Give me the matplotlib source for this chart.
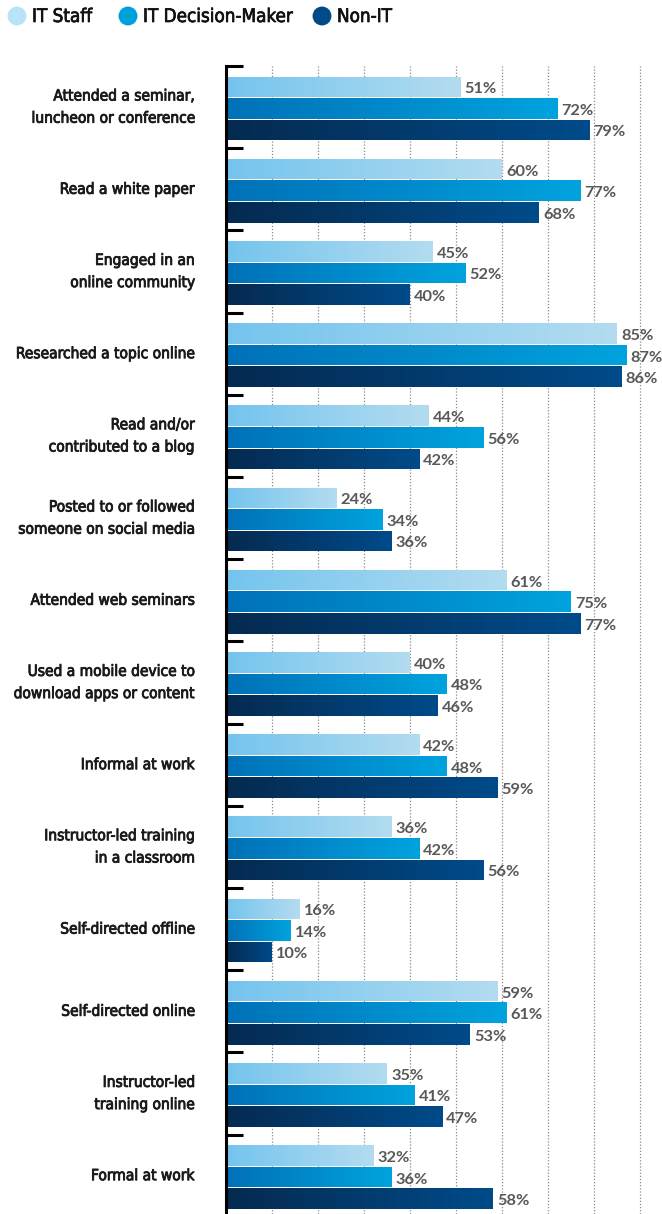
import matplotlib
matplotlib.use("Agg")
import matplotlib.pyplot as plt
import matplotlib.patheffects as pe
from matplotlib.patches import Ellipse
import numpy as np
from matplotlib.colors import LinearSegmentedColormap

# categorias e valores (%)
categorias = [
    "Attended a seminar,\nluncheon or conference",
    "Read a white paper",
    "Engaged in an\nonline community",
    "Researched a topic online",
    "Read and/or\ncontributed to a blog",
    "Posted to or followed\nsomeone on social media",
    "Attended web seminars",
    "Used a mobile device to\ndownload apps or content",
    "Informal at work",
    "Instructor-led training\nin a classroom",
    "Self-directed offline",
    "Self-directed online",
    "Instructor-led\ntraining online",
    "Formal at work",
]
it_staff = [51, 60, 45, 85, 44, 24, 61, 40, 42, 36, 16, 59, 35, 32]
it_decisor = [72, 77, 52, 87, 56, 34, 75, 48, 48, 42, 14, 61, 41, 36]
non_it = [79, 68, 40, 86, 42, 36, 77, 46, 59, 56, 10, 53, 47, 58]
series_nomes = ["IT Staff", "IT Decision-Maker", "Non-IT"]

# cores: gradiente (esquerda, direita) e cor da legenda
gradientes = [("#74c4ee", "#b3dcf0"), ("#0071b8", "#00a3de"), ("#052a50", "#004b8a")]
cores_legenda = ["#b9e3f7", "#00a0dc", "#004b87"]

W, H = 662, 1214
fig = plt.figure(figsize=(W / 100, H / 100), dpi=100)
x0, ytop = 226, 66
ax = fig.add_axes([x0 / W, 0, 1 - x0 / W, 1 - ytop / H])

grupo_px = 82.2
px = 4.6  # pixels por ponto percentual
n = len(categorias)
ax.set_ylim((H - ytop) / grupo_px, 0)
ax.set_xlim(0, (W - x0) / px)

offsets = [0.255, 0.517, 0.779]
altura = 0.25
idx = np.arange(n)
valores = [it_staff, it_decisor, non_it]
grad = np.linspace(0, 1, 256).reshape(1, -1)

for k, vals in enumerate(valores):
    cmap = LinearSegmentedColormap.from_list("g%d" % k, gradientes[k])
    bars = ax.barh(idx + offsets[k], vals, height=altura, color="none", linewidth=0)
    for b, v in zip(bars, vals):
        y = b.get_y()
        im = ax.imshow(grad, cmap=cmap, aspect="auto", extent=[0, v, y + altura, y], zorder=2)
        im.set_clip_path(b)
        ax.text(v + 0.9, y + altura / 2 + 0.03, "%d%%" % v, va="center", ha="left",
                fontsize=11.8, color="#595959", fontweight="bold",
                family=["Lato", "DejaVu Sans"], clip_on=False)

# grade vertical pontilhada
for gx in range(10, 100, 10):
    ax.axvline(gx, color="#8a8a8a", linestyle=(0, (1, 1.5)), linewidth=0.9, zorder=1)

# eixo e marcas de grupo
for s in ["top", "right", "bottom"]:
    ax.spines[s].set_visible(False)
ax.spines["left"].set_linewidth(2.2)
ax.set_xticks([])
ax.set_yticks(np.arange(n))
ax.set_yticklabels([])
ax.tick_params(axis="y", direction="in", length=12, width=2.2)

# traço fino para engrossar a fonte condensada
grosso = [pe.withStroke(linewidth=0.6, foreground="#1a1a1a")]

# rótulos das categorias
for i, cat in enumerate(categorias):
    ax.text(-31 / px, i + 0.5, cat, ha="right", va="center", fontsize=11.1,
            family="DejaVu Sans", fontstretch="condensed",
            color="#1a1a1a", linespacing=1.6, clip_on=False, path_effects=grosso)

# legenda (círculos + texto)
leg_x = [17, 128, 322]
for xc, cor, nome in zip(leg_x, cores_legenda, series_nomes):
    fig.add_artist(Ellipse((xc / W, 1 - 16 / H), 17.5 / W, 17.5 / H, color=cor,
                           transform=fig.transFigure))
    fig.text((xc + 15) / W, 1 - 16.5 / H, nome, ha="left", va="center", fontsize=13.5,
             family="DejaVu Sans", fontstretch="condensed", color="#111111",
             path_effects=[pe.withStroke(linewidth=0.5, foreground="#111111")])

fig.savefig("out.png", dpi=100)
